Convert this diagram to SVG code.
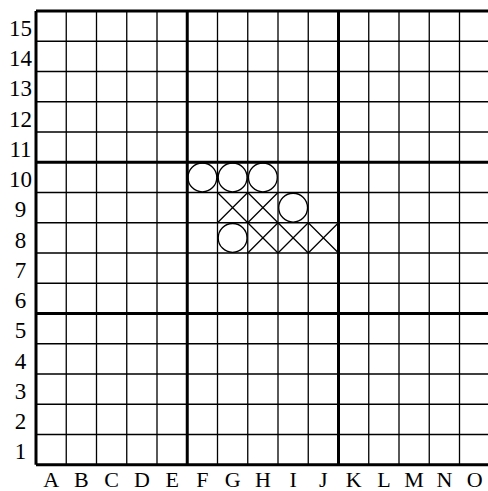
<svg xmlns="http://www.w3.org/2000/svg" width="488" height="491" viewBox="0 0 488 491">
<style>
.thin{stroke:#000;stroke-width:1.3;fill:none}
.thick{stroke:#000;stroke-width:3;fill:none}
.stone{stroke:#000;stroke-width:1.3;fill:none}
.lbl{font-family:"Liberation Serif","DejaVu Serif",serif;font-size:23px;fill:#000;text-anchor:middle}
.col{font-size:22px}
</style>
<rect width="488" height="491" fill="#fff"/>
<g id="grid-thin" class="thin">
<path d="M66.25 11V464.75M96.5 11V464.75M126.75 11V464.75M157 11V464.75M217.5 11V464.75M247.75 11V464.75M278 11V464.75M308.25 11V464.75M368.75 11V464.75M399 11V464.75M429.25 11V464.75M459.5 11V464.75"/>
<path d="M36 41.25H489.75M36 71.5H489.75M36 101.75H489.75M36 132H489.75M36 192.5H489.75M36 222.75H489.75M36 253H489.75M36 283.25H489.75M36 343.75H489.75M36 374H489.75M36 404.25H489.75M36 434.5H489.75"/>
</g>
<g id="grid-thick" class="thick">
<path d="M36 11V464.75M187.25 11V464.75M338.5 11V464.75M489.75 11V464.75"/>
<path d="M36 11H489.75M36 162.25H489.75M36 313.5H489.75M36 464.75H489.75"/>
</g>
<g id="row-labels" class="lbl">
<text x="20.5" y="35.75">15</text>
<text x="20.5" y="66">14</text>
<text x="20.5" y="96.25">13</text>
<text x="20.5" y="126.5">12</text>
<text x="20.5" y="156.75">11</text>
<text x="20.5" y="187">10</text>
<text x="20.5" y="217.25">9</text>
<text x="20.5" y="247.5">8</text>
<text x="20.5" y="277.75">7</text>
<text x="20.5" y="308">6</text>
<text x="20.5" y="338.25">5</text>
<text x="20.5" y="368.5">4</text>
<text x="20.5" y="398.75">3</text>
<text x="20.5" y="429">2</text>
<text x="20.5" y="459.25">1</text>
</g>
<g id="col-labels" class="lbl col">
<text x="51.125" y="487">A</text>
<text x="81.375" y="487">B</text>
<text x="111.625" y="487">C</text>
<text x="141.875" y="487">D</text>
<text x="172.125" y="487">E</text>
<text x="202.375" y="487">F</text>
<text x="232.625" y="487">G</text>
<text x="262.875" y="487">H</text>
<text x="293.125" y="487">I</text>
<text x="323.375" y="487">J</text>
<text x="353.625" y="487">K</text>
<text x="383.875" y="487">L</text>
<text x="414.125" y="487">M</text>
<text x="444.375" y="487">N</text>
<text x="474.625" y="487">O</text>
</g>
<g id="o-F10" class="stone"><circle cx="202.375" cy="177.375" r="14.4"/></g>
<g id="o-G10" class="stone"><circle cx="232.625" cy="177.375" r="14.4"/></g>
<g id="o-H10" class="stone"><circle cx="262.875" cy="177.375" r="14.4"/></g>
<g id="o-I9" class="stone"><circle cx="293.125" cy="207.625" r="14.4"/></g>
<g id="o-G8" class="stone"><circle cx="232.625" cy="237.875" r="14.4"/></g>
<g id="x-G9" class="stone"><path d="M217.5 192.5L247.75 222.75M247.75 192.5L217.5 222.75"/></g>
<g id="x-H9" class="stone"><path d="M247.75 192.5L278 222.75M278 192.5L247.75 222.75"/></g>
<g id="x-H8" class="stone"><path d="M247.75 222.75L278 253M278 222.75L247.75 253"/></g>
<g id="x-I8" class="stone"><path d="M278 222.75L308.25 253M308.25 222.75L278 253"/></g>
<g id="x-J8" class="stone"><path d="M308.25 222.75L338.5 253M338.5 222.75L308.25 253"/></g>
<g id="connectors"/>
</svg>
